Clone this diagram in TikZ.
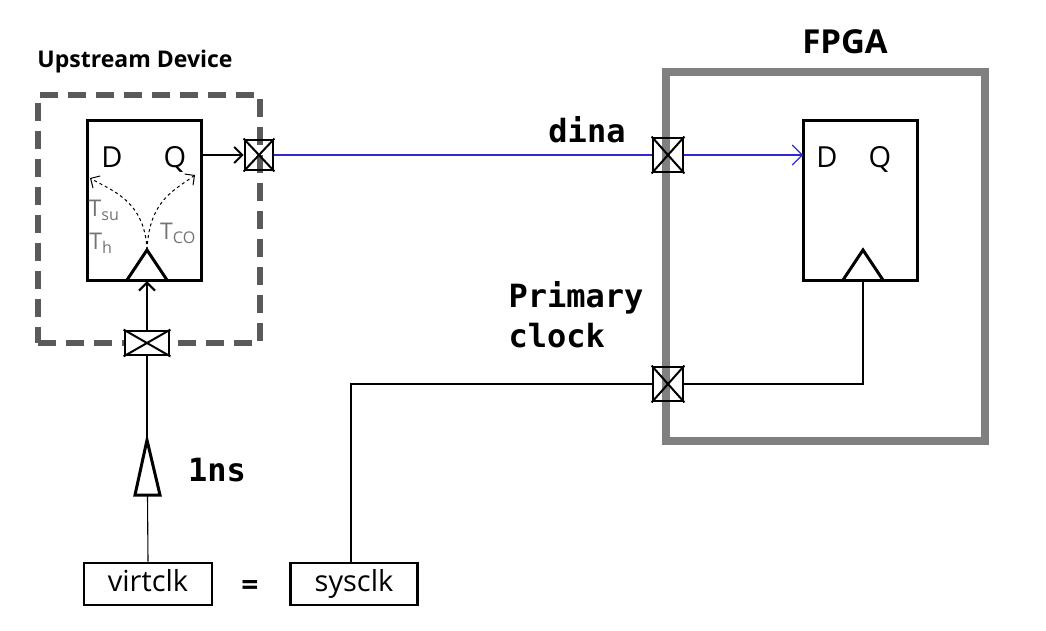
\documentclass[tikz,border=0pt]{standalone}
\usepackage{fontspec}
\setmainfont{Open Sans}
\newfontfamily\monof{DejaVu Sans Mono}
\usetikzlibrary{arrows.meta}
\begin{document}
\begin{tikzpicture}[x=1pt,y=-1pt,
  ff/.style={draw,line width=3pt,minimum width=114pt,minimum height=160pt,inner sep=0},
  pad/.style={draw,line width=2.8pt,minimum width=28pt,minimum height=30pt,inner sep=0},
  lbl/.style={font=\fontsize{29}{32}\selectfont,text height=22pt,text depth=7pt},
  mono/.style={font=\monof\bfseries\fontsize{32}{40}\selectfont},
  wire/.style={line width=1.1pt},
  bluew/.style={line width=1.1pt,draw={rgb,255:red,50;green,40;blue,210}}]
\useasboundingbox (0,0) rectangle (1046,630);
\newcommand{\padx}[1]{\draw[line width=2pt] (#1.north west)--(#1.south east) (#1.north east)--(#1.south west);}
% Upstream device
\node[font=\bfseries\fontsize{23}{26}\selectfont] (updev) at (135,62) {Upstream Device};
\node[draw={rgb,255:red,90;green,90;blue,90},line width=6pt,dash pattern=on 18pt off 10pt,minimum width=222pt,minimum height=248pt] (dbox) at (149,219) {};
\node[ff] (ff1) at (144.5,200) {};
\node[lbl] (d1) at (112,160) {D};
\node[lbl] (q1) at (175,160) {Q};
\draw[line width=3pt] (127,280)--(147,250)--(167,280);
\coordinate (ck1) at (147,250);
\draw[dashed,line width=1pt,-{Straight Barb[length=7pt]}] (ck1) .. controls (145,200) and (110,190) .. (90,178);
\draw[dashed,line width=1pt,-{Straight Barb[length=7pt]}] (ck1) .. controls (149,200) and (175,190) .. (195,175);
\node[font=\fontsize{23}{26}\selectfont,gray!90!black] (tsu) at (104,210) {T\textsubscript{su}};
\node[font=\fontsize{23}{26}\selectfont,gray!90!black] (th) at (101,243) {T\textsubscript{h}};
\node[font=\fontsize{23}{26}\selectfont,gray!90!black] (tco) at (178,233) {T\textsubscript{CO}};
\node[pad] (p1) at (259,155) {}; \padx{p1}
\draw[line width=2pt,-{Straight Barb[length=8pt]}] (202,155) -- (p1.west);
\node[pad,minimum width=44pt,minimum height=24pt,fill=white] (p2) at (147,343) {}; \padx{p2}
\draw[line width=2.2pt,-{Straight Barb[length=8pt]}] (p2.north) -- (147,281);
% buffer
\coordinate (bufapex) at (147,440);
\draw[line width=3pt] (135,495)--(bufapex)--(160,495)--cycle;
\draw[line width=2.2pt] (p2.south) -- (bufapex);
\node[mono] (ns) at (217,470) {1ns};
\node[draw,line width=2.8pt,minimum width=128pt,minimum height=42pt,lbl] (virt) at (148,584) {virtclk};
\draw[wire] (147.5,495) -- (virt.north);
\node[font=\bfseries\fontsize{30}{32}\selectfont] (eq) at (250,588) {=};
\node[draw,line width=2.8pt,minimum width=127pt,minimum height=42pt,lbl] (sys) at (354,584) {sysclk};
% FPGA
\node[draw={rgb,255:red,128;green,128;blue,128},line width=8pt,minimum width=319pt,minimum height=369pt] (fpga) at (825.5,256.5) {};
\node[font=\bfseries\fontsize{33}{38}\selectfont] (fl) at (845,42) {FPGA};
\node[ff] (ff2) at (860,200) {};
\node[lbl] (d2) at (827,160) {D};
\node[lbl] (q2) at (880,160) {Q};
\draw[line width=3pt] (843,280)--(863,250)--(883,280);
\node[pad,minimum width=30pt,minimum height=34pt] (p3) at (668,155) {}; \padx{p3}
\node[pad,minimum width=30pt,minimum height=34pt] (p4) at (668,384) {}; \padx{p4}
\draw[bluew] (p1.east) -- (p3.west);
\draw[bluew,-{Straight Barb[length=10pt,width=20pt]}] (p3.east) -- (803,155);
\node[mono] (dina) at (587,130) {dina};
\node[mono,align=left,anchor=west] (pc) at (505,315) {Primary\\clock};
\draw[wire] (351,563) |- (p4.west);
\draw[wire] (p4.east) -| (863,280);
\end{tikzpicture}
\end{document}
